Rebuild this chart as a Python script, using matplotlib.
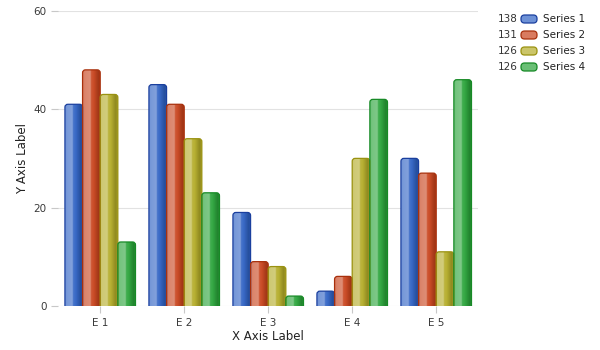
import numpy as np
import matplotlib
matplotlib.use("Agg")
import matplotlib.pyplot as plt
from matplotlib.patches import FancyBboxPatch
from matplotlib.colors import to_rgb

# Chart data
categories = ["E 1", "E 2", "E 3", "E 4", "E 5"]
series_names = ["Series 1", "Series 2", "Series 3", "Series 4"]
series_1 = [41, 45, 19, 3, 30]
series_2 = [48, 41, 9, 6, 27]
series_3 = [43, 34, 8, 30, 11]
series_4 = [13, 23, 2, 42, 46]
series_values = [series_1, series_2, series_3, series_4]
base_colors = ["#2f62c4", "#c8431c", "#b4ac28", "#2aa43a"]
edge_colors = ["#1a3f9e", "#a8300c", "#9a9210", "#178a26"]
y_ticks = [0, 20, 40, 60]


def shade(c, f):
    # f > 0 blends to white, f < 0 darkens
    c = np.array(to_rgb(c))
    if f >= 0:
        return c + (1 - c) * f
    return c * (1 + f)


def gradient(c):
    stops = [0.0, 0.1, 0.42, 0.45, 0.6, 0.88, 1.0]
    amts = [0.3, 0.35, 0.4, 0.12, 0.05, -0.2, -0.1]
    xs = np.linspace(0, 1, 40)
    cols = np.array([shade(c, a) for a in amts])
    arr = np.stack([np.interp(xs, stops, cols[:, k]) for k in range(3)], axis=-1)
    return arr[np.newaxis, :, :]


fig = plt.figure(figsize=(6, 3.5), dpi=100)
ax = fig.add_axes([0.097, 0.126, 0.70, 0.843])

x = np.arange(len(categories))
bw = 0.21
# pixels -> data units, used for the rounded top corners
aspect = (60 / 295.0) / (5 / 420.0)

for i, vals in enumerate(series_values):
    bars = ax.bar(x + (i - 1.5) * bw, vals, bw, color="none", edgecolor="none")
    for rect in bars:
        x0, w, h = rect.get_x(), rect.get_width(), rect.get_height()
        box = FancyBboxPatch((x0, -1.5), w, h + 1.5,
                             boxstyle="round,pad=0,rounding_size=0.035",
                             mutation_aspect=aspect, facecolor="none",
                             edgecolor=edge_colors[i], linewidth=0.9, zorder=3)
        ax.add_patch(box)
        im = ax.imshow(gradient(base_colors[i]), extent=(x0, x0 + w, 0, h),
                       aspect="auto", zorder=2, interpolation="bilinear")
        im.set_clip_path(box)

ax.set_xlim(-0.5, len(categories) - 0.5)
ax.set_ylim(0, 60)
ax.set_xticks(x)
ax.set_xticklabels(categories)
ax.set_yticks(y_ticks)
ax.grid(axis="y", color="#e2e2e2", linewidth=0.8, zorder=0)
ax.set_axisbelow(True)
for s in ax.spines.values():
    s.set_visible(False)
ax.tick_params(axis="both", colors="#c8c8c8", labelcolor="#3a3a3a",
               labelsize=7.5, length=5, width=0.8)
ax.set_xlabel("X Axis Label", fontsize=8.5, color="#222222", labelpad=2)
ax.set_ylabel("Y Axis Label", fontsize=8.5, color="#222222", labelpad=3)

# Legend with totals
for i, name in enumerate(series_names):
    yy = 1 - (19 + 16 * i) / 350.0
    fig.text(518 / 600.0, yy, str(sum(series_values[i])), ha="right", va="center",
             fontsize=7.5, color="#333333")
    sw = FancyBboxPatch((521 / 600.0, yy - 4 / 350.0), 16 / 600.0, 8 / 350.0,
                        boxstyle="round,pad=0,rounding_size=0.006",
                        mutation_aspect=600 / 350.0,
                        transform=fig.transFigure,
                        facecolor=shade(base_colors[i], 0.3),
                        edgecolor=edge_colors[i], linewidth=0.9)
    fig.patches.append(sw)
    fig.text(543 / 600.0, yy, name, ha="left", va="center",
             fontsize=7.5, color="#222222")

fig.savefig("out.png", dpi=100)
